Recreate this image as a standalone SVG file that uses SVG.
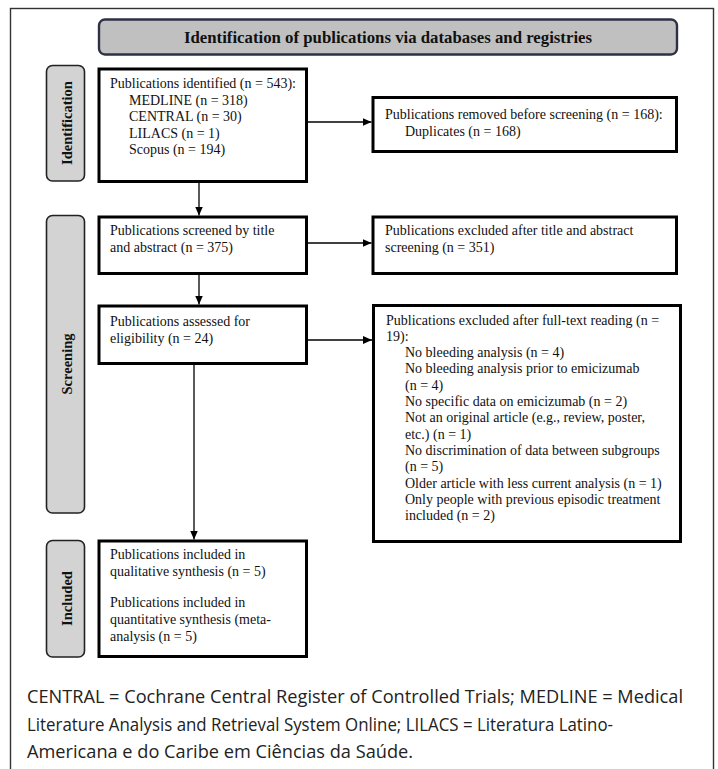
<svg xmlns="http://www.w3.org/2000/svg" width="718" height="769" viewBox="0 0 718 769">
<style>
.box{fill:#fff;stroke:#000;stroke-width:3}
.lab{fill:#d3d3d3;stroke:#222;stroke-width:1.6}
.t{font-family:"Liberation Serif","Times New Roman",serif;font-size:14px;fill:#111}
.lt{font-family:"Liberation Serif","Times New Roman",serif;font-size:14.5px;font-weight:bold;fill:#111}
.foot{font-family:"Open Sans","Noto Sans","Liberation Sans",sans-serif;font-size:17.5px;fill:#222}
.conn{stroke:#000;stroke-width:1.3;fill:none}
</style>
<defs>
<marker id="ah" markerUnits="userSpaceOnUse" markerWidth="10" markerHeight="10" viewBox="0 0 10 10" refX="9" refY="5" orient="auto">
<path d="M0,1 L9,5 L0,9 Z" fill="#000"/>
</marker>
</defs>
<rect x="10.5" y="8.5" width="703" height="790" fill="#fff" stroke="#333" stroke-width="1.4"/>
<g id="header">
<rect x="99" y="19.5" width="578" height="35" rx="6" fill="#c0c0c0" stroke="#2e3045" stroke-width="2.4"/>
<text x="388" y="42.5" text-anchor="middle" font-family="Liberation Serif, Times New Roman, serif" font-size="16.8" font-weight="bold" fill="#111">Identification of publications via databases and registries</text>
</g>
<g id="label-identification">
<rect class="lab" x="46.5" y="65.5" width="38" height="115.5" rx="6"/>
<text class="lt" transform="translate(66.5,123) rotate(-90)" text-anchor="middle" dominant-baseline="central">Identification</text>
</g>
<g id="label-screening">
<rect class="lab" x="46.5" y="215.5" width="38" height="297.5" rx="6"/>
<text class="lt" transform="translate(66.5,364) rotate(-90)" text-anchor="middle" dominant-baseline="central">Screening</text>
</g>
<g id="label-included">
<rect class="lab" x="46.5" y="540.5" width="38" height="116.5" rx="6"/>
<text class="lt" transform="translate(66.5,598.5) rotate(-90)" text-anchor="middle" dominant-baseline="central">Included</text>
</g>
<g id="identified">
<rect class="box" x="99" y="69" width="207.5" height="112.5"/>
<text class="t" x="110" y="88">Publications identified (n = 543):</text>
<text class="t" x="129" y="104.5">MEDLINE (n = 318)</text>
<text class="t" x="129" y="121">CENTRAL (n = 30)</text>
<text class="t" x="129" y="137.5">LILACS (n = 1)</text>
<text class="t" x="129" y="154">Scopus (n = 194)</text>
</g>
<g id="removed">
<rect class="box" x="373" y="97.5" width="303.5" height="54"/>
<text class="t" x="385" y="119">Publications removed before screening (n = 168):</text>
<text class="t" x="405" y="135.5">Duplicates (n = 168)</text>
</g>
<g id="screened">
<rect class="box" x="99" y="217" width="207.5" height="56.5"/>
<text class="t" x="110" y="234.5">Publications screened by title</text>
<text class="t" x="110" y="251.5">and abstract (n = 375)</text>
</g>
<g id="excluded-title">
<rect class="box" x="373" y="217" width="303.5" height="56.5"/>
<text class="t" x="385" y="234.5">Publications excluded after title and abstract</text>
<text class="t" x="385" y="251.5">screening (n = 351)</text>
</g>
<g id="assessed">
<rect class="box" x="99" y="306" width="207.5" height="57.5"/>
<text class="t" x="110" y="326">Publications assessed for</text>
<text class="t" x="110" y="343">eligibility (n = 24)</text>
</g>
<g id="excluded-fulltext">
<rect class="box" x="373.5" y="305.5" width="307" height="236"/>
<text class="t" x="386" y="324.5">Publications excluded after full-text reading (n =</text>
<text class="t" x="386" y="340.8">19):</text>
<text class="t" x="405" y="357.1">No bleeding analysis (n = 4)</text>
<text class="t" x="405" y="373.4">No bleeding analysis prior to emicizumab</text>
<text class="t" x="405" y="389.7">(n = 4)</text>
<text class="t" x="405" y="406">No specific data on emicizumab (n = 2)</text>
<text class="t" x="405" y="422.3">Not an original article (e.g., review, poster,</text>
<text class="t" x="405" y="438.6">etc.) (n = 1)</text>
<text class="t" x="405" y="454.9">No discrimination of data between subgroups</text>
<text class="t" x="405" y="471.2">(n = 5)</text>
<text class="t" x="405" y="487.5">Older article with less current analysis (n = 1)</text>
<text class="t" x="405" y="503.8">Only people with previous episodic treatment</text>
<text class="t" x="405" y="520.1">included (n = 2)</text>
</g>
<g id="included">
<rect class="box" x="99" y="541" width="207.5" height="115.5"/>
<text class="t" x="110" y="559">Publications included in</text>
<text class="t" x="110" y="576">qualitative synthesis (n = 5)</text>
<text class="t" x="110" y="607">Publications included in</text>
<text class="t" x="110" y="624">quantitative synthesis (meta-</text>
<text class="t" x="110" y="640.5">analysis (n = 5)</text>
</g>
<g id="connectors">
<line class="conn" x1="199" y1="182.5" x2="199" y2="215.5" marker-end="url(#ah)"/>
<line class="conn" x1="199" y1="275" x2="199" y2="304.5" marker-end="url(#ah)"/>
<line class="conn" x1="194" y1="364.5" x2="194" y2="539.5" marker-end="url(#ah)"/>
<line class="conn" x1="308" y1="122" x2="371.5" y2="122" marker-end="url(#ah)"/>
<line class="conn" x1="308" y1="243" x2="371.5" y2="243" marker-end="url(#ah)"/>
<line class="conn" x1="308" y1="340" x2="372" y2="340" marker-end="url(#ah)"/>
</g>
<g id="footnote">
<text class="foot" x="27" y="703" textLength="656" lengthAdjust="spacingAndGlyphs">CENTRAL = Cochrane Central Register of Controlled Trials; MEDLINE = Medical</text>
<text class="foot" x="27" y="730.5" textLength="586" lengthAdjust="spacingAndGlyphs">Literature Analysis and Retrieval System Online; LILACS = Literatura Latino-</text>
<text class="foot" x="27" y="758" textLength="386" lengthAdjust="spacingAndGlyphs">Americana e do Caribe em Ciências da Saúde.</text>
</g>
</svg>
